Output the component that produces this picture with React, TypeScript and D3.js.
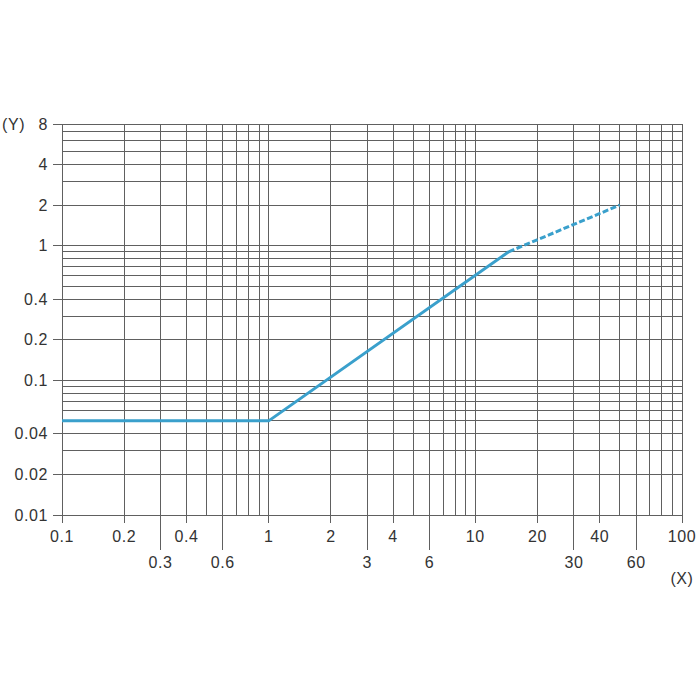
import * as d3 from 'd3';

// axis domains
const X_DOMAIN: [number, number] = [0.1, 100];
const Y_DOMAIN: [number, number] = [0.01, 8];

// tick labels
const X_LABELS_TOP = [0.1, 0.2, 0.4, 1, 2, 4, 10, 20, 40, 100];
const X_LABELS_BOTTOM = [0.3, 0.6, 3, 6, 30, 60];
const Y_LABELS = [8, 4, 2, 1, 0.4, 0.2, 0.1, 0.04, 0.02, 0.01];

// curve: solid part then dashed extension
const SOLID_X = [0.1, 1, 14.5];
const SOLID_Y = [0.05, 0.05, 0.9];
const DASHED_X = [14.5, 50];
const DASHED_Y = [0.9, 2];

const W = 700;
const H = 700;
const left = 62;
const right = 682;
const top = 124;
const bottom = 515;

const FONT = '"Liberation Sans", Arial, sans-serif';
const TEXT = '#333';
const GRID = '#606060';
const BLUE = '#3aa0cc';

export default function App() {
  const x = d3.scaleLog().domain(X_DOMAIN).range([left, right]);
  const y = d3.scaleLog().domain(Y_DOMAIN).range([bottom, top]);

  const xGrid = x.ticks();
  const yGrid = y.ticks();

  const line = d3.line<[number, number]>()
    .x(d => x(d[0]))
    .y(d => y(d[1]));

  const solid = SOLID_X.map((v, i) => [v, SOLID_Y[i]] as [number, number]);
  const dashed = DASHED_X.map((v, i) => [v, DASHED_Y[i]] as [number, number]);

  const fmt = (v: number) => String(+v.toPrecision(3));

  return (
    <div style={{ position: 'fixed', left: 0, top: 0 }}>
      <svg width={W} height={H} style={{ display: 'block', background: '#fff' }}>
        {/* vertical grid lines */}
        <g stroke={GRID} strokeWidth={1} shapeRendering="crispEdges">
          {xGrid.map(v => {
            const lab1 = X_LABELS_TOP.some(t => Math.abs(t - v) < 1e-9);
            const lab2 = X_LABELS_BOTTOM.some(t => Math.abs(t - v) < 1e-9);
            const yEnd = lab2 ? bottom + 35 : lab1 ? bottom + 8 : bottom;
            return <line key={'x' + v} x1={x(v)} x2={x(v)} y1={top} y2={yEnd} />;
          })}
          {/* horizontal grid lines */}
          {yGrid.map(v => {
            const lab = Y_LABELS.some(t => Math.abs(t - v) < 1e-9);
            return <line key={'y' + v} x1={lab ? left - 9 : left} x2={right} y1={y(v)} y2={y(v)} />;
          })}
        </g>

        {/* data line */}
        <path d={line(solid) ?? ''} fill="none" stroke={BLUE} strokeWidth={3} strokeLinejoin="round" />
        <path d={line(dashed) ?? ''} fill="none" stroke={BLUE} strokeWidth={3} strokeDasharray="6 2.5" />

        {/* labels */}
        <g fontFamily={FONT} fontSize={16} fill={TEXT} letterSpacing={0.6}>
          {Y_LABELS.map(v => (
            <text key={'yl' + v} x={48} y={y(v)} textAnchor="end" dominantBaseline="central">{fmt(v)}</text>
          ))}
          {X_LABELS_TOP.map(v => (
            <text key={'xt' + v} x={x(v)} y={542} textAnchor="middle">{fmt(v)}</text>
          ))}
          {X_LABELS_BOTTOM.map(v => (
            <text key={'xb' + v} x={x(v)} y={568} textAnchor="middle">{fmt(v)}</text>
          ))}
          <text x={2} y={y(8)} dominantBaseline="central">(Y)</text>
          <text x={682} y={584} textAnchor="middle">(X)</text>
        </g>
      </svg>
    </div>
  );
}
